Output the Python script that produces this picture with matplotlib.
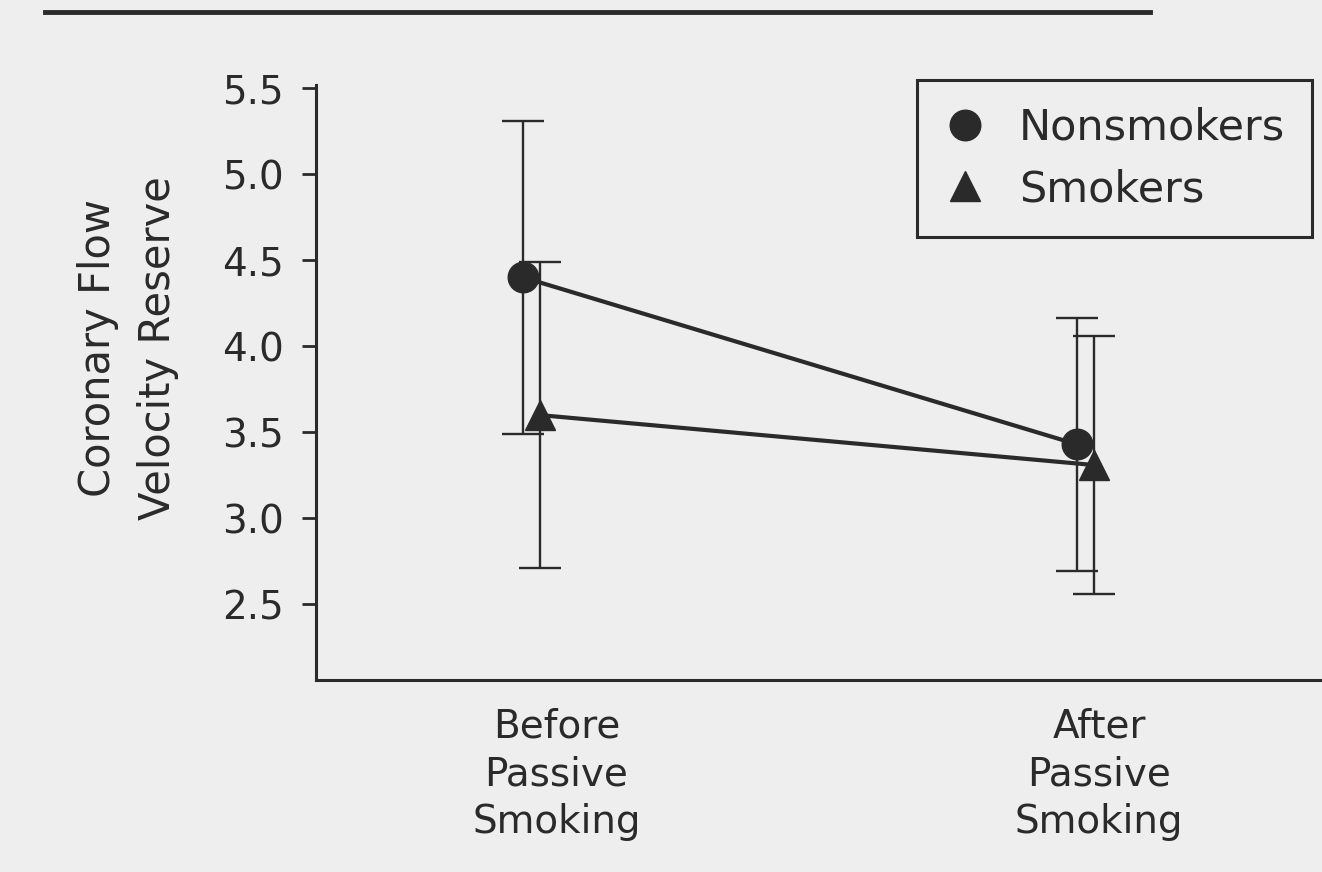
import matplotlib
matplotlib.use("Agg")
import matplotlib.pyplot as plt
from matplotlib.lines import Line2D

# data
conditions = ["Before\nPassive\nSmoking", "After\nPassive\nSmoking"]
nonsmokers_mean = [4.40, 3.43]
nonsmokers_err = [0.91, 0.735]
smokers_mean = [3.60, 3.31]
smokers_err = [0.89, 0.75]
yticks = [2.5, 3.0, 3.5, 4.0, 4.5, 5.0, 5.5]

BG = "#eeeeee"
INK = "#2a2a2a"

plt.rcParams["font.family"] = ["DejaVu Sans"]

fig = plt.figure(figsize=(13.22, 8.72), dpi=100, facecolor=BG)
ax = fig.add_axes([0.239, 0.220, 0.765, 0.683], facecolor=BG)

x_non = [0, 1]
x_smk = [x + 0.03 for x in x_non]

ax.errorbar(x_non, nonsmokers_mean, yerr=nonsmokers_err, fmt="none",
            ecolor=INK, elinewidth=1.7, capsize=15, capthick=1.7, zorder=2)
ax.errorbar(x_smk, smokers_mean, yerr=smokers_err, fmt="none",
            ecolor=INK, elinewidth=1.7, capsize=15, capthick=1.7, zorder=2)
ax.plot(x_non, nonsmokers_mean, color=INK, lw=3.0, marker="o",
        markersize=22, markerfacecolor=INK, markeredgecolor=INK, zorder=3)
ax.plot(x_smk, smokers_mean, color=INK, lw=3.0, marker="^",
        markersize=22, markerfacecolor=INK, markeredgecolor=INK, zorder=3)

ax.set_xlim(-0.374, 1.452)
ax.set_ylim(2.06, 5.52)

ax.set_yticks(yticks)
ax.set_yticklabels([f"{v:.1f}" for v in yticks])
ax.set_xticks([0.06, 1.04])
ax.set_xticklabels(conditions, linespacing=1.32)

for s in ["top", "right"]:
    ax.spines[s].set_visible(False)
for s in ["left", "bottom"]:
    ax.spines[s].set_linewidth(2.2)
    ax.spines[s].set_color(INK)

ax.tick_params(axis="y", length=10, width=2, colors=INK, labelsize=28, pad=13)
ax.tick_params(axis="x", length=0, colors=INK, labelsize=28, pad=20)

fig.text(128 / 1322, 1 - 348 / 872, "Coronary Flow\nVelocity Reserve",
         rotation=90, ha="center", va="center", fontsize=30,
         color=INK, linespacing=1.55)

handles = [
    Line2D([], [], ls="none", marker="o", markersize=22, color=INK),
    Line2D([], [], ls="none", marker="^", markersize=22, color=INK),
]
leg = fig.legend(handles, ["Nonsmokers", "Smokers"], loc="upper right",
                 bbox_to_anchor=(1312 / 1322, 1 - 80 / 872), fontsize=31,
                 frameon=True, fancybox=False, facecolor=BG, edgecolor=INK,
                 framealpha=1, handlelength=1.0, handletextpad=0.75,
                 labelspacing=0.45, borderpad=0.62, borderaxespad=0)
leg.get_frame().set_linewidth(2.2)
for t in leg.get_texts():
    t.set_color(INK)

# rule across the top of the scanned page
fig.add_artist(Line2D([45 / 1322, 1150 / 1322], [1 - 12 / 872] * 2,
                      color=INK, lw=3.5))

fig.savefig("out.png", dpi=100, facecolor=BG)
